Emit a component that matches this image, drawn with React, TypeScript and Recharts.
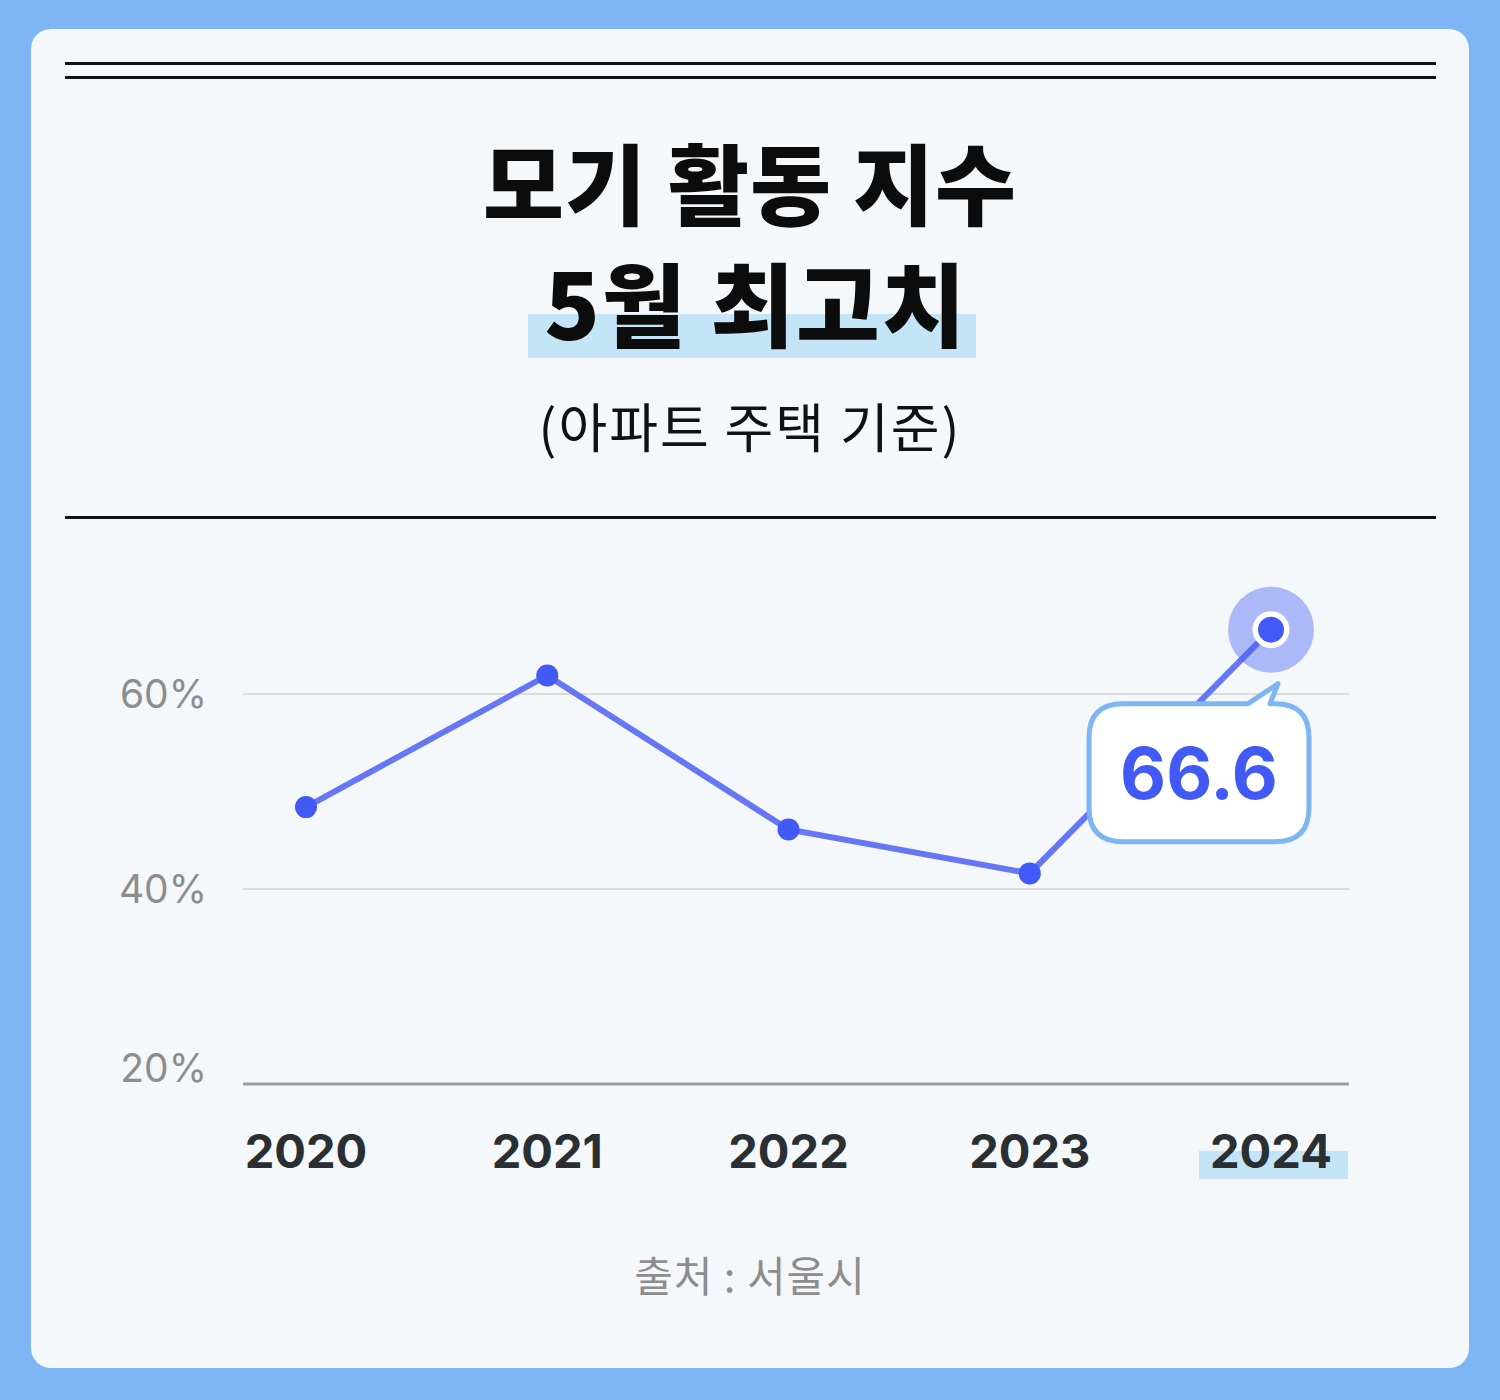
import React from 'react';
import { LineChart, Line, XAxis, YAxis, CartesianGrid } from 'recharts';

const years = ['2020', '2021', '2022', '2023', '2024'];
const values = [48.4, 61.9, 46.1, 41.6, 66.6];
const yTicks = [20, 40, 60];
const yDomain = [20, 70];
const highlightYear = '2024';

const data = years.map((year, i) => ({ year, value: values[i] }));

const NUM_FONT = 'Inter, "Noto Sans CJK KR", sans-serif';
const KR_FONT = '"Noto Sans CJK KR", "Noto Sans", sans-serif';

const YTick = (props: any) => {
  const { x, y, payload } = props;
  const dy = payload.value === yTicks[0] ? -16 : 0;
  return (
    <text x={x} y={y + dy} dy={14} textAnchor="end" fontFamily={NUM_FONT} fontSize={39} fill="#8d8d8d">
      {payload.value}%
    </text>
  );
};

const XTick = (props: any) => {
  const { x, y, payload } = props;
  const hl = payload.value === highlightYear;
  return (
    <g>
      {hl && <rect x={x - 72} y={y + 67} width={149} height={28} fill="#C4E4F8" />}
      <text x={x} y={y} dy={84} textAnchor="middle" fontFamily={NUM_FONT} fontWeight={700} fontSize={47} fill="#2a2f33">
        {payload.value}
      </text>
    </g>
  );
};

const Dot = (props: any) => {
  const { cx, cy, index } = props;
  if (index !== values.length - 1) {
    return <circle key={`d${index}`} cx={cx} cy={cy} r={11} fill="#4159F5" />;
  }
  const l = cx - 182;
  const r = cx + 38;
  const t = cy + 74;
  const b = cy + 212;
  const rad = 34;
  const path = `M ${l + rad} ${t} L ${cx - 23} ${t} L ${cx + 7} ${cy + 54} L ${cx - 1} ${t} L ${r - rad} ${t} Q ${r} ${t} ${r} ${t + rad} L ${r} ${b - rad} Q ${r} ${b} ${r - rad} ${b} L ${l + rad} ${b} Q ${l} ${b} ${l} ${b - rad} L ${l} ${t + rad} Q ${l} ${t} ${l + rad} ${t} Z`;
  return (
    <g key={`d${index}`}>
      <circle cx={cx} cy={cy} r={43} fill="#4159F5" fillOpacity={0.4} />
      <circle cx={cx} cy={cy} r={18.5} fill="#ffffff" />
      <circle cx={cx} cy={cy} r={13} fill="#4159F5" />
      <path d={path} fill="#ffffff" stroke="#7DB5F5" strokeWidth={5} strokeLinejoin="round" />
      <text x={(l + r) / 2} y={(t + b) / 2} dy={26} textAnchor="middle" fontFamily={NUM_FONT} fontWeight={700} fontSize={71} fill="#4159F5">
        {values[index]}
      </text>
    </g>
  );
};

export default function App() {
  return (
    <div style={{ position: 'absolute', left: 0, top: 0, width: 1500, height: 1400, background: '#7EB6F5', overflow: 'hidden' }}>
      <div style={{ position: 'absolute', left: 31, top: 29, width: 1438, height: 1339, borderRadius: 20, background: '#F4F8FB' }} />
      <div style={{ position: 'absolute', left: 65, top: 62, width: 1371, height: 2.5, background: '#111' }} />
      <div style={{ position: 'absolute', left: 65, top: 76, width: 1371, height: 2.5, background: '#111' }} />
      <div style={{ position: 'absolute', left: 65, top: 516, width: 1371, height: 2.5, background: '#111' }} />
      <div style={{ position: 'absolute', left: 528, top: 314, width: 448, height: 44, background: '#C4E4F8' }} />
      <div style={{ position: 'absolute', left: 0, top: 120, width: 1500, textAlign: 'center', fontFamily: KR_FONT, fontWeight: 900, fontSize: 88, lineHeight: '120px', color: '#0c0c0c' }}>
        <div style={{ letterSpacing: 1 }}>모기 활동 지수</div>
        <div style={{ letterSpacing: 2, fontSize: 91, paddingLeft: 12 }}>5월 최고치</div>
      </div>
      <div style={{ position: 'absolute', left: 0, top: 390, width: 1500, textAlign: 'center', fontFamily: KR_FONT, fontWeight: 400, fontSize: 53, lineHeight: '70px', color: '#111', letterSpacing: 2 }}>
        (아파트 주택 기준)
      </div>
      <div style={{ position: 'absolute', left: 0, top: 1244, width: 1500, textAlign: 'center', fontFamily: KR_FONT, fontWeight: 400, fontSize: 42, lineHeight: '60px', color: '#8d8d8d', letterSpacing: 1 }}>
        출처 : 서울시
      </div>
      <div style={{ position: 'absolute', left: 0, top: 0 }}>
        <LineChart width={1500} height={1400} data={data} margin={{ top: 596.5, right: 151, bottom: 256, left: 143 }}>
          <CartesianGrid vertical={false} stroke="#D2D2D2" strokeWidth={1.5} horizontalValues={yTicks} />
          <XAxis dataKey="year" padding={{ left: 63, right: 78 }} tickLine={false} axisLine={{ stroke: '#9a9a9a', strokeWidth: 3 }} tickSize={0} tickMargin={0} height={60} tick={<XTick />} interval={0} />
          <YAxis type="number" domain={yDomain} ticks={yTicks} width={100} tickLine={false} axisLine={false} tickSize={0} tickMargin={36} tick={<YTick />} />
          <Line type="linear" dataKey="value" stroke="#6677F6" strokeWidth={6} dot={Dot} activeDot={false} isAnimationActive={false} />
        </LineChart>
      </div>
    </div>
  );
}
